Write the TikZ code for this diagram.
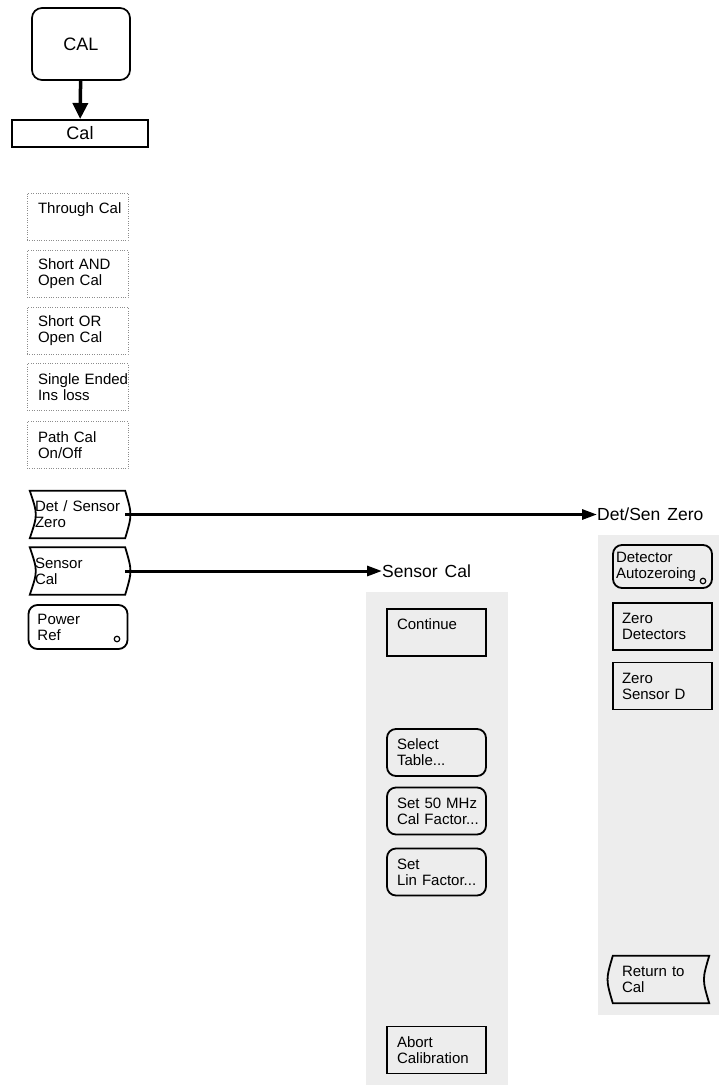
\documentclass[tikz,border=0pt]{standalone}
\usepackage{fontspec}
\setmainfont{Liberation Sans}
\usetikzlibrary{arrows.meta,calc}
\newcommand{\kl}[1]{\mbox{#1}}
\begin{document}
\begin{tikzpicture}[x=1pt,y=-1pt,
  keyfont/.style={font={\fontsize{15}{16}\selectfont\spaceskip=6pt plus 1pt\relax}},
  key/.style={keyfont, align=left, minimum height=47pt, inner ysep=0pt, inner xsep=10pt, text width=79pt},
  tightkey/.style={key, inner xsep=5pt, text width=85pt},
  plainkey/.style={key, draw=black!45, dotted, inner xsep=11pt},
  rectkey/.style={key, draw, line width=1.8pt},
  roundkey/.style={key, draw, line width=1.8pt, rounded corners=9pt},
  keyline/.style={draw, line width=1.8pt},
  stipple/.style={fill=black!7},
  bigarrow/.style={line width=3.5pt, -{Triangle[length=16pt,width=15pt]}},
  linkarrow/.style={line width=3pt, -{Triangle[length=15pt,width=10pt]}},
  title/.style={font={\fontsize{17.5}{20}\selectfont\spaceskip=7pt\relax}, anchor=west, inner sep=0pt},
  dot/.style={circle, draw, line width=1.2pt, inner sep=0pt, minimum size=5.5pt}
]
\useasboundingbox (0,0) rectangle (719,1085);

% stippled menu backgrounds
\fill[stipple] (366,592) rectangle (508,1085);
\fill[stipple] (598,535) rectangle (719,1015);

% hard key and menu header
\node[draw, line width=1.7pt, rounded corners=10pt, minimum width=98pt, minimum height=72pt,
      font=\fontsize{18}{20}\selectfont] (CALkey) at (81,44) {CAL};
\node[draw, line width=2pt, minimum width=136pt, minimum height=27pt, inner sep=0pt,
      font=\fontsize{18}{20}\selectfont] (calmenu) at (80,133.5) {Cal};
\draw[bigarrow] (CALkey) -- (calmenu);

% Cal menu softkeys
\node[plainkey] (through) at (77.5,216.5) {\kl{Through Cal}\\\mbox{}};
\node[plainkey] (shortand) at (77.5,274) {\kl{Short AND}\\\kl{Open Cal}};
\node[plainkey] (shortor) at (77.5,330.5) {\kl{Short OR}\\\kl{Open Cal}};
\node[plainkey] (single) at (77.5,387) {\kl{Single Ended}\\\kl{Ins loss}};
\node[plainkey] (path) at (77.5,445) {\kl{Path Cal}\\\kl{On/Off}};

\node[tightkey, minimum width=95pt] (detzero) at (77.5,514.5) {\kl{Det / Sensor}\\\kl{Zero}};
\draw[keyline] (detzero.north west) -- (detzero.north east)
  .. controls ($(detzero.east)+(7,0)$) .. (detzero.south east)
  -- (detzero.south west)
  .. controls ($(detzero.west)+(8,0)$) .. (detzero.north west) -- cycle;

\node[tightkey, minimum width=95pt] (sensorcal) at (77.5,571) {\kl{Sensor}\\\kl{Cal}};
\draw[keyline] (sensorcal.north west) -- (sensorcal.north east)
  .. controls ($(sensorcal.east)+(7,0)$) .. (sensorcal.south east)
  -- (sensorcal.south west)
  .. controls ($(sensorcal.west)+(8,0)$) .. (sensorcal.north west) -- cycle;

\node[roundkey, minimum height=44pt, inner xsep=9pt, text width=81pt] (powerref) at (78,627) {\kl{Power}\\\kl{Ref}};
\node[dot] (powerdot) at (117,639) {};

% links to sub-menus
\node[title] (dettitle) at (597,514.5) {Det/Sen Zero};
\node[title] (senstitle) at (382,571) {Sensor Cal};
\draw[linkarrow] (detzero.east) -- (dettitle.west);
\draw[linkarrow] (sensorcal.east) -- (senstitle.west);

% Sensor Cal menu
\node[rectkey] (continue) at (436.5,632.5) {\kl{Continue}\\\mbox{}};
\node[roundkey] (selecttable) at (436.5,752.5) {\kl{Select}\\\kl{Table...}};
\node[roundkey] (set50) at (436.5,811) {\kl{Set 50 MHz}\\\kl{Cal Factor...}};
\node[roundkey] (setlin) at (436.5,872) {\kl{Set}\\\kl{Lin Factor...}};
\node[rectkey] (abort) at (436.5,1050) {\kl{Abort}\\\kl{Calibration}};

% Det/Sen Zero menu
\node[roundkey, minimum height=43pt, inner xsep=3pt, text width=93pt] (autozero) at (662.5,566.5) {\kl{Detector}\\\kl{Autozeroing}};
\node[dot] (autodot) at (703,581) {};
\node[rectkey, inner xsep=9pt, text width=81pt] (zerodet) at (662.5,626.5) {\kl{Zero}\\\kl{Detectors}};
\node[rectkey, inner xsep=9pt, text width=81pt] (zerosens) at (662.5,686) {\kl{Zero}\\\kl{Sensor D}};

\node[key, minimum width=96pt, inner xsep=9pt, text width=78pt] (returncal) at (661,979.5) {\kl{Return to}\\\kl{Cal}};
\draw[keyline] (returncal.north west) -- (returncal.north east)
  .. controls ($(returncal.east)+(-7,0)$) .. (returncal.south east)
  -- (returncal.south west)
  .. controls ($(returncal.west)+(-7,0)$) .. (returncal.north west) -- cycle;
\end{tikzpicture}
\end{document}
